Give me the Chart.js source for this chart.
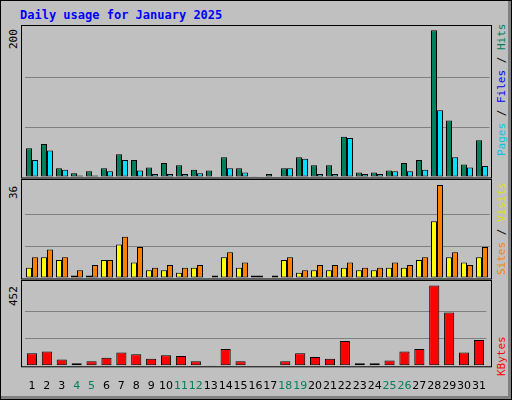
<!DOCTYPE html>
<html>
<head>
<meta charset="utf-8">
<script src="https://cdn.jsdelivr.net/npm/chart.js@4/dist/chart.umd.min.js"></script>
<style>
  body { margin: 0; }
  #frame { position: relative; width: 510px; height: 398px; background: #C0C0C0; border: 1px solid #000; overflow: hidden; }
  #frame:after { content: ""; position: absolute; left: 0; top: 0; right: 0; bottom: 0; border-right: 3px solid #808080; border-bottom: 3px solid #808080; pointer-events: none; }
  .title { position: absolute; left: 19px; top: 7px; font: bold 12px "DejaVu Sans Mono", monospace; color: #0000FF; }
  .cv { position: absolute; left: 20px; }
  .vl { position: absolute; font: 11px "DejaVu Sans Mono", monospace; white-space: nowrap; transform-origin: 0 0; transform: rotate(-90deg); }
</style>
</head>
<body>
<div id="frame">
  <div class="title">Daily usage for January 2025</div>
  <canvas id="c1" class="cv" style="top:24px"></canvas>
  <canvas id="c2" class="cv" style="top:178px"></canvas>
  <canvas id="c3" class="cv" style="top:279px"></canvas>
  <div class="vl" style="left:6px;top:48px">200</div>
  <div class="vl" style="left:6px;top:198px">36</div>
  <div class="vl" style="left:6px;top:305px">452</div>
  <div class="vl" style="left:494px;top:155px"><span style="color:#00C8E0">Pages</span> / <span style="color:#0000FF">Files</span> / <span style="color:#00805C">Hits</span></div>
  <div class="vl" style="left:494px;top:274px"><span style="color:#FF8000">Sites</span> / <span style="color:#E0E000">Visits</span></div>
  <div class="vl" style="left:494px;top:375px"><span style="color:#FF0000">KBytes</span></div>
</div>
<script>
const days = ["1","2","3","4","5","6","7","8","9","10","11","12","13","14","15","16","17","18","19","20","21","22","23","24","25","26","27","28","29","30","31"];
const weekend = ["4","5","11","12","18","19","25","26"];
const hits = [39,45,12,5,8,12,31,23,13,19,16,10,9,27,12,1,4,12,27,16,16,55,6,6,9,19,23,200,77,17,50];
const pages = [23,36,10,2,2,8,23,9,4,4,4,5,0,12,6,0,0,12,25,4,4,53,4,4,8,8,10,91,27,13,15];
const visits = [4,8,7,1,1,7,13,6,3,3,2,4,0,8,4,1,0,7,2,3,3,4,3,3,4,4,7,22,8,6,8];
const sites = [8,11,8,3,5,7,16,12,4,5,4,5,1,10,6,1,1,8,3,5,5,6,4,4,6,5,8,36,10,5,12];
const kbytes = [70,80,35,15,25,45,75,65,40,60,55,25,5,95,25,3,3,25,70,50,40,140,15,15,30,80,95,452,300,75,145];

const framePlugin = {
  id: "frame",
  afterDraw(chart) {
    const a = chart.chartArea, ctx = chart.ctx;
    ctx.save();
    ctx.strokeStyle = "#000";
    ctx.lineWidth = 1;
    ctx.strokeRect(0.5, 0.5, chart.width - 1, a.bottom + 0.5);
    ctx.restore();
  }
};

function makeChart(id, pad, max, datasets, catPct, showX) {
  const cv = document.getElementById(id);
  return new Chart(cv, {
    type: "bar",
    data: { labels: days, datasets: datasets },
    options: {
      responsive: false, animation: false, devicePixelRatio: 1,
      layout: { padding: pad },
      plugins: { legend: { display: false }, tooltip: { enabled: false } },
      datasets: { bar: { categoryPercentage: catPct, barPercentage: 1, borderWidth: 1, borderColor: "#000", borderSkipped: false } },
      scales: {
        x: {
          display: showX, border: { display: false }, grid: { display: false },
          ticks: { color: (c) => weekend.includes(days[c.index]) ? "#00805C" : "#000", font: { family: "DejaVu Sans", size: 11 }, padding: 6, maxRotation: 0, autoSkip: false }
        },
        y: {
          display: true, min: 0, max: max,
          afterBuildTicks: (ax) => { ax.ticks = [0, max / 3, 2 * max / 3, max].map(v => ({ value: v })); },
          ticks: { display: false },
          border: { display: false },
          grid: { color: (c) => (c.index === 1 || c.index === 2) ? "#808080" : "rgba(0,0,0,0)", lineWidth: 1, drawTicks: false }
        }
      }
    },
    plugins: [framePlugin]
  });
}

function sizeCanvas(id, h) { const c = document.getElementById(id); c.width = 471; c.height = h; c.style.width = "471px"; c.style.height = h + "px"; }
sizeCanvas("c1", 154); sizeCanvas("c2", 101); sizeCanvas("c3", 119);

makeChart("c1", { left: 3.5, right: 2.5, top: 3, bottom: 2 }, 203, [
  { data: hits, backgroundColor: "#00805C" },
  { data: pages, backgroundColor: "#00E0FF" }
], 0.8, false);
makeChart("c2", { left: 3.5, right: 2.5, top: 4, bottom: 2 }, 36.8, [
  { data: visits, backgroundColor: "#FFFF00" },
  { data: sites, backgroundColor: "#FF8000" }
], 0.8, false);
makeChart("c3", { left: 3.5, right: 2.5, top: 4, bottom: 0 }, 460, [
  { data: kbytes, backgroundColor: "#FF0000" }
], 0.68, true);
</script>
</body>
</html>
